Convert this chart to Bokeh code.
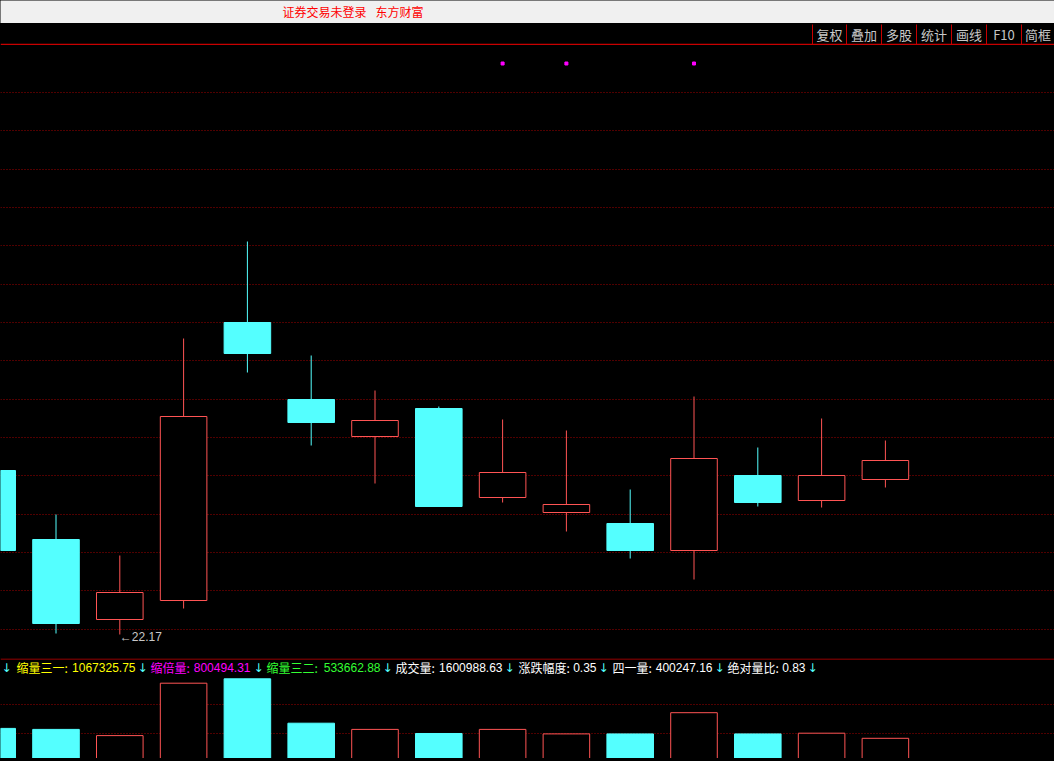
from bokeh.plotting import figure
from bokeh.layouts import column
from bokeh.models import Range1d
from bokeh.core.properties import value
from bokeh.embed import file_html
from bokeh.resources import INLINE

# ---------------- data ----------------
OPEN = [23.81, 23.12, 22.32, 22.51, 25.29, 24.52, 24.15, 24.43, 23.54, 23.39, 23.28, 23.01, 23.76, 23.51, 23.72]
CLOSE = [23.01, 22.28, 22.59, 24.35, 24.98, 24.29, 24.31, 23.45, 23.79, 23.47, 23.01, 23.93, 23.49, 23.76, 23.91]
HIGH = [23.85, 23.37, 22.96, 25.13, 26.10, 24.96, 24.61, 24.45, 24.32, 24.21, 23.62, 24.55, 24.04, 24.33, 24.11]
LOW = [22.98, 22.18, 22.17, 22.43, 24.79, 24.06, 23.68, 23.45, 23.49, 23.20, 22.93, 22.72, 23.45, 23.44, 23.64]
VOLUME = [628200, 609600, 494800, 1465700, 1547300, 724500, 609600, 533700, 609600,
          526300, 526300, 919100, 526300, 539200, 444700]
SIGNAL_IDX = [8, 9, 11]
SIGNAL_PRICE = 27.88
LOW_MARK_IDX = 2
LOW_MARK_TEXT = "←22.17"
PRICE_GRID = [27.587, 27.207, 26.817, 26.437, 26.06, 25.667, 25.287, 24.907, 24.517,
              24.137, 23.757, 23.367, 22.987, 22.607, 22.217]
VOL_GRID = [1067325.75, 533662.88]
TOOL_LABELS = ["复权", "叠加", "多股", "统计", "画线", "F10", "简框"]
INFO_LABELS = ["缩量三一:", "缩倍量:", "缩量三二:", "成交量:", "涨跌幅度:", "四一量:", "绝对量比:"]
INFO_VALUES = ["1067325.75", "800494.31", "533662.88", "1600988.63", "0.35", "400247.16", "0.83"]
INFO_COLORS = ["#ffff00", "#ff00ff", "#33ff33", "#ffffff", "#ffffff", "#ffffff", "#ffffff"]
HEADER_TEXTS = ["证券交易未登录", "东方财富"]

# ---------------- style ----------------
W = 1054
CYAN = "#54ffff"
RED = "#ff5454"
GRID_RED = "#a00000"
LINE_RED = "#c80000"
CJK = value("Noto Sans CJK SC")
NUM = value("Liberation Sans")

# layout positions (page pixel coordinates)
TB_SEP = [812, 846, 881, 916, 951, 986, 1021, 1054]
INFO_LABEL_X = [16, 150, 266, 395, 518, 612, 727]
INFO_VALUE_END = [135, 250, 380, 502, 596, 712, 805]
INFO_ARROW_X = [1, 137, 253, 382, 504, 598, 714, 807]


def base_fig(h, xr, yr, bg):
    p = figure(width=W, height=h, x_range=xr, y_range=yr, output_backend="svg",
               toolbar_location=None, x_axis_location=None, y_axis_location=None,
               min_border=0, background_fill_color=bg, border_fill_color=bg,
               outline_line_color=None)
    p.grid.visible = False
    return p


# ---------------- header ----------------
hdr = base_fig(23, Range1d(0, W), Range1d(23, 0), "#f0f0f0")
hdr.text(x=[282, 375], y=[10.5, 10.5], text=HEADER_TEXTS, text_font=CJK,
         text_font_size="12px", text_color="#ff0000", text_align="left",
         text_baseline="middle")

# ---------------- toolbar strip ----------------
tb = base_fig(22, Range1d(0, W), Range1d(45, 23), "#000000")
tb.segment(x0=TB_SEP[:-1], y0=[24] * 7, x1=TB_SEP[:-1], y1=[44] * 7,
           line_color=LINE_RED, line_width=1)
tb.segment(x0=[0], y0=[44], x1=[W], y1=[44], line_color=LINE_RED, line_width=1.5)
tb_cx = [(TB_SEP[i] + TB_SEP[i + 1]) / 2 for i in range(7)]
tb.text(x=tb_cx, y=[34] * 7, text=TOOL_LABELS, text_font=CJK, text_font_size="13px",
        text_color="#c8c8c8", text_align="center", text_baseline="middle")

# ---------------- main candle chart ----------------
n = len(OPEN)
idx = list(range(n))
up = [c >= o for o, c in zip(OPEN, CLOSE)]
xr = Range1d(8.3 / 63.8, (W + 8.3) / 63.8)
main = base_fig(613, xr, Range1d(21.93, 28.06), "#000000")
main.hspan(y=PRICE_GRID, line_color=GRID_RED, line_dash="1 2", line_width=1)

wick_col = [RED if u else CYAN for u in up]
main.segment(x0=idx, y0=HIGH, x1=idx, y1=LOW, line_color=wick_col, line_width=1)
top = [max(o, c) for o, c in zip(OPEN, CLOSE)]
bot = [min(o, c) for o, c in zip(OPEN, CLOSE)]
ui = [i for i in idx if up[i]]
di = [i for i in idx if not up[i]]
BW = 0.73
main.vbar(x=di, top=[top[i] for i in di], bottom=[bot[i] for i in di], width=BW,
          fill_color=CYAN, line_color=CYAN, line_width=1)
main.vbar(x=ui, top=[top[i] for i in ui], bottom=[bot[i] for i in ui], width=BW,
          fill_color="#000000", line_color=RED, line_width=1)
main.scatter(x=SIGNAL_IDX, y=[SIGNAL_PRICE] * len(SIGNAL_IDX), marker="square",
             size=3, fill_color="#ff00ff", line_color="#ff00ff")
main.text(x=[LOW_MARK_IDX], y=[LOW[LOW_MARK_IDX]], text=[LOW_MARK_TEXT], text_font=NUM,
          text_font_size="12px", text_color="#c8c8c8", text_align="left",
          text_baseline="middle", y_offset=2)

# ---------------- info row ----------------
info = base_fig(18, Range1d(0, W), Range1d(676, 658), "#000000")
info.segment(x0=[0], y0=[658.5], x1=[W], y1=[658.5], line_color=LINE_RED, line_width=1)
info.text(x=INFO_LABEL_X, y=[667] * 7, text=INFO_LABELS, text_font=CJK,
          text_font_size="12px", text_color=INFO_COLORS, text_align="left",
          text_baseline="middle")
info.text(x=INFO_VALUE_END, y=[667] * 7, text=INFO_VALUES, text_font=NUM,
          text_font_size="12px", text_color=INFO_COLORS, text_align="right",
          text_baseline="middle")
info.text(x=INFO_ARROW_X, y=[667] * 8, text=["↓"] * 8, text_font=value("DejaVu Sans"),
          text_font_size="12px", text_color=CYAN, text_align="left",
          text_baseline="middle")

# ---------------- volume ----------------
vol = base_fig(82, xr, Range1d(70414, 1589874), "#000000")
vol.hspan(y=VOL_GRID, line_color=GRID_RED, line_dash="1 2", line_width=1)
vol.vbar(x=di, top=[VOLUME[i] for i in di], bottom=0, width=BW,
         fill_color=CYAN, line_color=CYAN, line_width=1)
vol.vbar(x=ui, top=[VOLUME[i] for i in ui], bottom=0, width=BW,
         fill_color="#000000", line_color=RED, line_width=1)

# ---------------- bottom edge ----------------
bottom = base_fig(3, xr, Range1d(3, 0), "#c80000")
bottom.segment(x0=[-1], y0=[0.5], x1=[n - 1], y1=[0.5], line_color="#ffffff", line_width=1)

layout = column(hdr, tb, main, info, vol, bottom, spacing=0)

html = file_html(layout, INLINE)
html = html.replace("</head>", "<style>body{background:#000000;}</style></head>", 1)
open("out.html", "w").write(html)
